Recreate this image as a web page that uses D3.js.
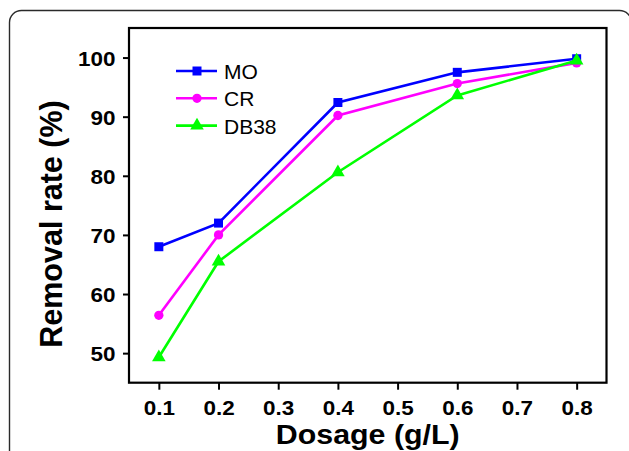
<!DOCTYPE html>
<html>
<head>
<meta charset="utf-8">
<script src="https://cdn.jsdelivr.net/npm/d3@7/dist/d3.min.js"></script>
<style>
  html, body { margin: 0; padding: 0; background: #fff; }
  svg { display: block; }
  text { font-family: "Liberation Sans", Arial, Helvetica, sans-serif; }
</style>
</head>
<body>
<svg id="chart" width="629" height="451"></svg>
<script>
// Dosage levels (g/L)
const dosage = [0.1, 0.2, 0.4, 0.6, 0.8];
// Removal rate (%) for each dye
const moValues   = [68.0, 72.0, 92.4, 97.5, 99.8];
const crValues   = [56.4, 70.0, 90.2, 95.6, 99.1];
const db38Values = [49.3, 65.5, 80.6, 93.6, 99.5];
const seriesNames = ["MO", "CR", "DB38"];
const xTicks = [0.1, 0.2, 0.3, 0.4, 0.5, 0.6, 0.7, 0.8];
const yTicks = [50, 60, 70, 80, 90, 100];

const series = [
  { name: seriesNames[0], values: moValues,   color: "#0000ff", symbol: d3.symbolSquare,   size: 81 },
  { name: seriesNames[1], values: crValues,   color: "#ff00ff", symbol: d3.symbolCircle,   size: 68 },
  { name: seriesNames[2], values: db38Values, color: "#00ff00", symbol: d3.symbolTriangle, size: 80 }
];

const svg = d3.select("#chart");
const plot = { left: 129, top: 28, right: 606.5, bottom: 382.7 };
const tickStretch = 1.07;   // slightly wide bold numerals

// outer rounded frame
svg.append("rect")
  .attr("x", 9.5).attr("y", 10.5)
  .attr("width", 622).attr("height", 520)
  .attr("rx", 12).attr("ry", 12)
  .attr("fill", "none")
  .attr("stroke", "#2a2a2a")
  .attr("stroke-width", 1.4);

const x = d3.scaleLinear().domain([0.05, 0.85]).range([plot.left, plot.right]);
const y = d3.scaleLinear().domain([45, 105]).range([plot.bottom, plot.top]);

// axes
const xAxis = d3.axisBottom(x).tickValues(xTicks).tickSize(7)
  .tickFormat(d3.format(".1f"));
const yAxis = d3.axisLeft(y).tickValues(yTicks).tickSize(6)
  .tickFormat(d3.format("d"));

const gx = svg.append("g").attr("transform", `translate(0,${plot.bottom})`).call(xAxis);
const gy = svg.append("g").attr("transform", `translate(${plot.left},0)`).call(yAxis);

[gx, gy].forEach(g => {
  g.select(".domain").remove();
  g.selectAll(".tick line").attr("stroke", "#000").attr("stroke-width", 2);
  g.selectAll(".tick text")
    .attr("fill", "#000")
    .style("font-size", "21px")
    .style("font-weight", "bold")
    .attr("transform", `scale(${tickStretch},1)`);
});
gx.selectAll(".tick text").attr("y", 32.5).attr("dy", null);
gy.selectAll(".tick text").attr("x", -13.5 / tickStretch).attr("dy", "0.36em");

// plot box
svg.append("rect")
  .attr("x", plot.left).attr("y", plot.top)
  .attr("width", plot.right - plot.left).attr("height", plot.bottom - plot.top)
  .attr("fill", "none").attr("stroke", "#000").attr("stroke-width", 2.2);

// series lines and markers
const line = d3.line().x((d, i) => x(dosage[i])).y(d => y(d));
series.forEach(s => {
  svg.append("path")
    .attr("d", line(s.values))
    .attr("fill", "none")
    .attr("stroke", s.color)
    .attr("stroke-width", 2.6);
  svg.append("g").selectAll("path")
    .data(s.values)
    .join("path")
    .attr("transform", (d, i) => `translate(${x(dosage[i])},${y(d)})`)
    .attr("d", d3.symbol().type(s.symbol).size(s.size))
    .attr("fill", s.color);
});

// legend
const legend = svg.append("g").attr("transform", "translate(176,71)");
series.forEach((s, i) => {
  const g = legend.append("g").attr("transform", `translate(0,${i * 27.3})`);
  g.append("line").attr("x1", 0).attr("x2", 41).attr("y1", 0).attr("y2", 0)
    .attr("stroke", s.color).attr("stroke-width", 2.6);
  g.append("path").attr("transform", "translate(21,0)")
    .attr("d", d3.symbol().type(s.symbol).size(s.size)).attr("fill", s.color);
  g.append("text").attr("x", 48).attr("y", 8)
    .style("font-size", "21px").attr("fill", "#000").text(s.name);
});

// axis titles
svg.append("g")
  .attr("transform", `translate(${(plot.left + plot.right) / 2},444.3) scale(1.085,1)`)
  .append("text")
  .attr("text-anchor", "middle")
  .style("font-size", "28px").style("font-weight", "bold")
  .text("Dosage (g/L)");

svg.append("text")
  .attr("transform", "translate(61.7,224) rotate(-90)")
  .attr("text-anchor", "middle")
  .style("font-size", "30.5px").style("font-weight", "bold")
  .text("Removal rate (%)");
</script>
</body>
</html>
